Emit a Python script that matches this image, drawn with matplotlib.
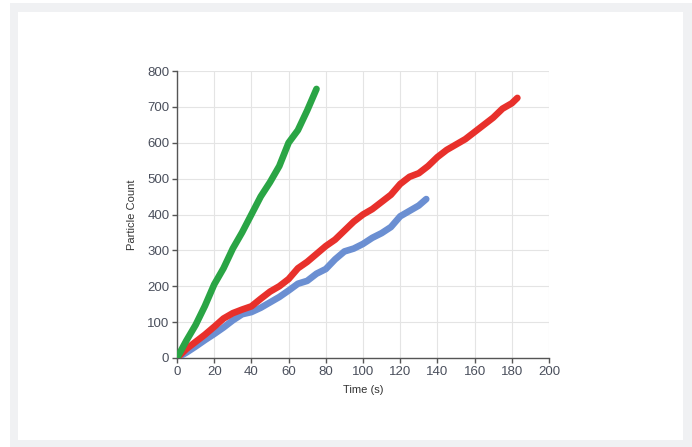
import matplotlib.pyplot as plt
from matplotlib.patches import Rectangle

# values
green_t = [0, 5, 10, 15, 20, 25, 30, 35, 40, 45, 50, 55, 60, 65, 70, 75]
green_n = [0, 48, 92, 145, 205, 250, 305, 350, 400, 450, 490, 535, 600, 635, 690, 750]

red_t = [0, 5, 10, 15, 20, 25, 30, 35, 40, 45, 50, 55, 60, 65, 70, 75, 80, 85, 90,
         95, 100, 105, 110, 115, 120, 125, 130, 135, 140, 145, 150, 155, 160, 165,
         170, 175, 180, 183]
red_n = [0, 25, 45, 65, 87, 110, 125, 135, 144, 165, 185, 200, 220, 250, 268, 290,
         312, 330, 355, 380, 400, 415, 435, 455, 485, 505, 515, 535, 560, 580, 595,
         610, 630, 650, 670, 695, 710, 725]

blue_t = [0, 5, 10, 15, 20, 25, 30, 35, 40, 45, 50, 55, 60, 65, 70, 75, 80, 85, 90,
          95, 100, 105, 110, 115, 120, 125, 130, 134]
blue_n = [0, 15, 32, 50, 67, 85, 105, 122, 128, 140, 155, 170, 188, 207, 215, 235,
          248, 275, 297, 305, 318, 335, 348, 365, 395, 410, 425, 443]

plt.rcParams['font.family'] = ['Liberation Sans', 'DejaVu Sans']

fig = plt.figure(figsize=(6.92, 4.47), dpi=100)
W, H = 692, 447
# grey frame with white panel
fig.patches.append(Rectangle((10 / W, 0), 1 - 10 / W, 1 - 3 / H, transform=fig.transFigure,
                             facecolor='#f0f1f3', edgecolor='none', zorder=-2))
fig.patches.append(Rectangle((18 / W, 7 / H), (683 - 18) / W, (440 - 12) / H,
                             transform=fig.transFigure, facecolor='white',
                             edgecolor='none', zorder=-1))

ax = fig.add_axes([177 / W, 1 - 358 / H, (549 - 177) / W, (358 - 71) / H])
ax.set_facecolor('none')

ax.plot(blue_t, blue_n, color='#6b8fd2', lw=4.8, solid_capstyle='round', zorder=3)
ax.plot(red_t, red_n, color='#e8302b', lw=4.8, solid_capstyle='round', zorder=4)
ax.plot(green_t, green_n, color='#2aa545', lw=4.8, solid_capstyle='round', zorder=5)

ax.set_xlim(0, 200)
ax.set_ylim(0, 800)
ax.set_xticks(range(0, 201, 20))
ax.set_yticks(range(0, 801, 100))
ax.grid(True, color='#e4e4e4', lw=0.8)
ax.set_axisbelow(True)
for s in ['top', 'right']:
    ax.spines[s].set_visible(False)
for s in ['left', 'bottom']:
    ax.spines[s].set_color('#555555')
    ax.spines[s].set_linewidth(1.0)
ax.tick_params(direction='out', length=3.5, width=1.0, color='#555555',
               labelsize=9.5, labelcolor='#4a4f5c', pad=2)

ax.set_xlabel('Time (s)', fontsize=8, color='#333333', labelpad=5)
ax.set_ylabel('Particle Count', fontsize=8, color='#333333', labelpad=7)

fig.savefig('out.png', dpi=100)
